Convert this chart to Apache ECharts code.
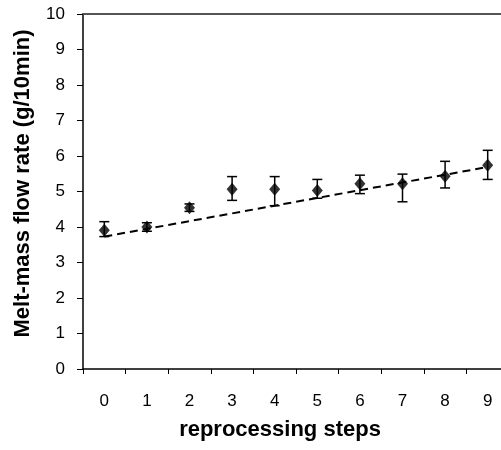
<!DOCTYPE html>
<html>
<head>
<meta charset="utf-8">
<script src="https://cdn.jsdelivr.net/npm/echarts@6/dist/echarts.min.js"></script>
<style>
  html, body { margin: 0; padding: 0; background: #fff; }
  #main { width: 501px; height: 450px; }
</style>
</head>
<body>
<div id="main"></div>
<script>
// reprocessing steps
const steps = ['0', '1', '2', '3', '4', '5', '6', '7', '8', '9'];
// melt-mass flow rate (g/10min)
const mfr = [3.91, 4.0, 4.54, 5.06, 5.06, 5.03, 5.22, 5.22, 5.43, 5.74];
const errLow = [3.73, 3.88, 4.44, 4.75, 4.6, 4.81, 4.94, 4.71, 5.1, 5.34];
const errHigh = [4.15, 4.12, 4.65, 5.42, 5.42, 5.34, 5.46, 5.49, 5.85, 6.16];
// dashed trend line (start / end)
const trendX = [0, 9];
const trendY = [3.73, 5.69];

const chart = echarts.init(document.getElementById('main'));

const errData = steps.map((s, i) => [i, errLow[i], errHigh[i]]);
const trendData = trendX.map((x, i) => [x, trendY[i]]);

const option = {
    animation: false,
    backgroundColor: '#fff',
    grid: { left: 83, top: 14, width: 426, height: 355, outerBoundsMode: 'none', containLabel: false },
    xAxis: [{
        type: 'category',
        data: steps,
        boundaryGap: true,
        name: 'reprocessing steps',
        nameLocation: 'middle',
        nameGap: 50,
        nameTextStyle: { fontFamily: 'Liberation Sans', fontSize: 22, fontWeight: 'bold', color: '#000', padding: [0, 32, 0, 0] },
        axisLine: { lineStyle: { color: '#000', width: 1.5 } },
        axisTick: { show: true, length: 5, lineStyle: { color: '#000' } },
        axisLabel: { fontFamily: 'Liberation Sans', fontSize: 17, color: '#000', margin: 24 },
        splitLine: { show: false }
    }, {
        type: 'category',
        data: steps,
        position: 'top',
        axisLine: { lineStyle: { color: '#555', width: 2 } },
        axisTick: { show: false },
        axisLabel: { show: false }
    }],
    yAxis: {
        type: 'value',
        min: 0,
        max: 10,
        interval: 1,
        name: 'Melt-mass flow rate (g/10min)',
        nameLocation: 'middle',
        nameGap: 49,
        nameTextStyle: { fontFamily: 'Liberation Sans', fontSize: 22, fontWeight: 'bold', color: '#000', padding: [0, 0, 0, 16] },
        axisLine: { show: true, lineStyle: { color: '#000', width: 1.5 } },
        axisTick: { show: true, length: 6, lineStyle: { color: '#000' } },
        axisLabel: { fontFamily: 'Liberation Sans', fontSize: 17, color: '#000', margin: 18 },
        splitLine: { show: false }
    },
    series: [{
        type: 'line',
        data: trendData,
        symbol: 'none',
        lineStyle: { color: '#000', width: 2, type: [8, 5] },
        z: 2
    }, {
        type: 'custom',
        data: errData,
        renderItem: function (params, api) {
            const x = api.value(0);
            const lo = api.coord([x, api.value(1)]);
            const hi = api.coord([x, api.value(2)]);
            const w = 5;
            const st = { stroke: '#000', lineWidth: 1.5 };
            return {
                type: 'group',
                children: [
                    { type: 'line', shape: { x1: lo[0], y1: lo[1], x2: hi[0], y2: hi[1] }, style: st },
                    { type: 'line', shape: { x1: lo[0] - w, y1: lo[1], x2: lo[0] + w, y2: lo[1] }, style: st },
                    { type: 'line', shape: { x1: hi[0] - w, y1: hi[1], x2: hi[0] + w, y2: hi[1] }, style: st }
                ]
            };
        },
        z: 3
    }, {
        type: 'scatter',
        data: mfr,
        symbol: 'diamond',
        symbolSize: [11, 13],
        itemStyle: { color: '#000' },
        z: 4
    }]
};

chart.setOption(option);
</script>
</body>
</html>
